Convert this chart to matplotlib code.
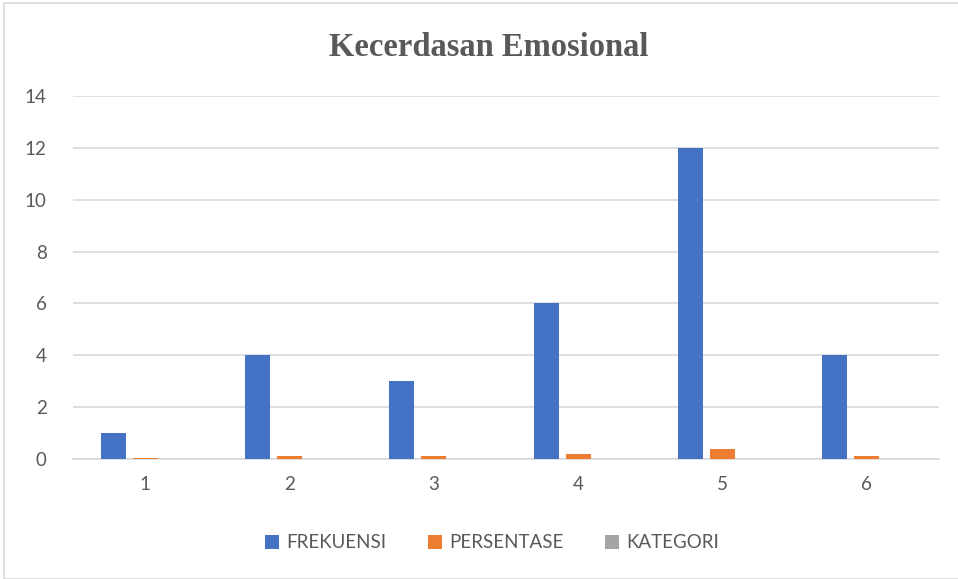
import numpy as np
import matplotlib.pyplot as plt
from matplotlib.patches import Rectangle

# data
categories = ["1", "2", "3", "4", "5", "6"]
frekuensi = [1, 4, 3, 6, 12, 4]
persentase = [0.033, 0.133, 0.1, 0.2, 0.4, 0.133]
kategori = [0, 0, 0, 0, 0, 0]

fig = plt.figure(figsize=(9.58, 5.79), dpi=100)
fig.patches.append(Rectangle((4/958, 0), 1.0, 1 - 3/579, transform=fig.transFigure,
                             fill=False, edgecolor="#d9d9d9", linewidth=1.2))
ax = fig.add_axes([73/958, 120/579, 866/958, 363/579])

x = np.arange(len(categories))
w = 0.173
step = 0.222
ax.bar(x - step, frekuensi, w, color="#4472c4", label="FREKUENSI", zorder=3)
ax.bar(x, persentase, w, color="#ed7d31", label="PERSENTASE", zorder=3)
ax.bar(x + step, kategori, w, color="#a5a5a5", label="KATEGORI", zorder=3)

ax.set_xlim(-0.5, 5.5)
ax.set_ylim(0, 14)
ax.set_yticks(range(0, 15, 2))
ax.set_xticks(x)
ax.set_xticklabels(categories)
ax.grid(axis="y", color="#d9d9d9", linewidth=1.2, zorder=0)
for s in ["top", "right", "left"]:
    ax.spines[s].set_visible(False)
ax.spines["bottom"].set_color("#d9d9d9")
ax.spines["bottom"].set_linewidth(1.2)
ax.tick_params(length=0, labelsize=13.5, labelcolor="#595959", pad=12)
ax.tick_params(axis="y", pad=19)
for t in ax.get_xticklabels() + ax.get_yticklabels():
    t.set_family("Lato")

fig.text(489/958, 1 - 47/579, "Kecerdasan Emosional", ha="center", va="center",
         family="Liberation Serif", weight="bold", fontsize=23.5, color="#595959")

leg = fig.legend(loc="center", bbox_to_anchor=(492/958, 1 - 543/579), ncol=3, frameon=False,
                 prop={"family": "Lato", "size": 13.5}, handlelength=0.75, handleheight=0.75,
                 columnspacing=2.2, handletextpad=0.4)
for t in leg.get_texts():
    t.set_color("#595959")

fig.savefig("out.png", dpi=100)
